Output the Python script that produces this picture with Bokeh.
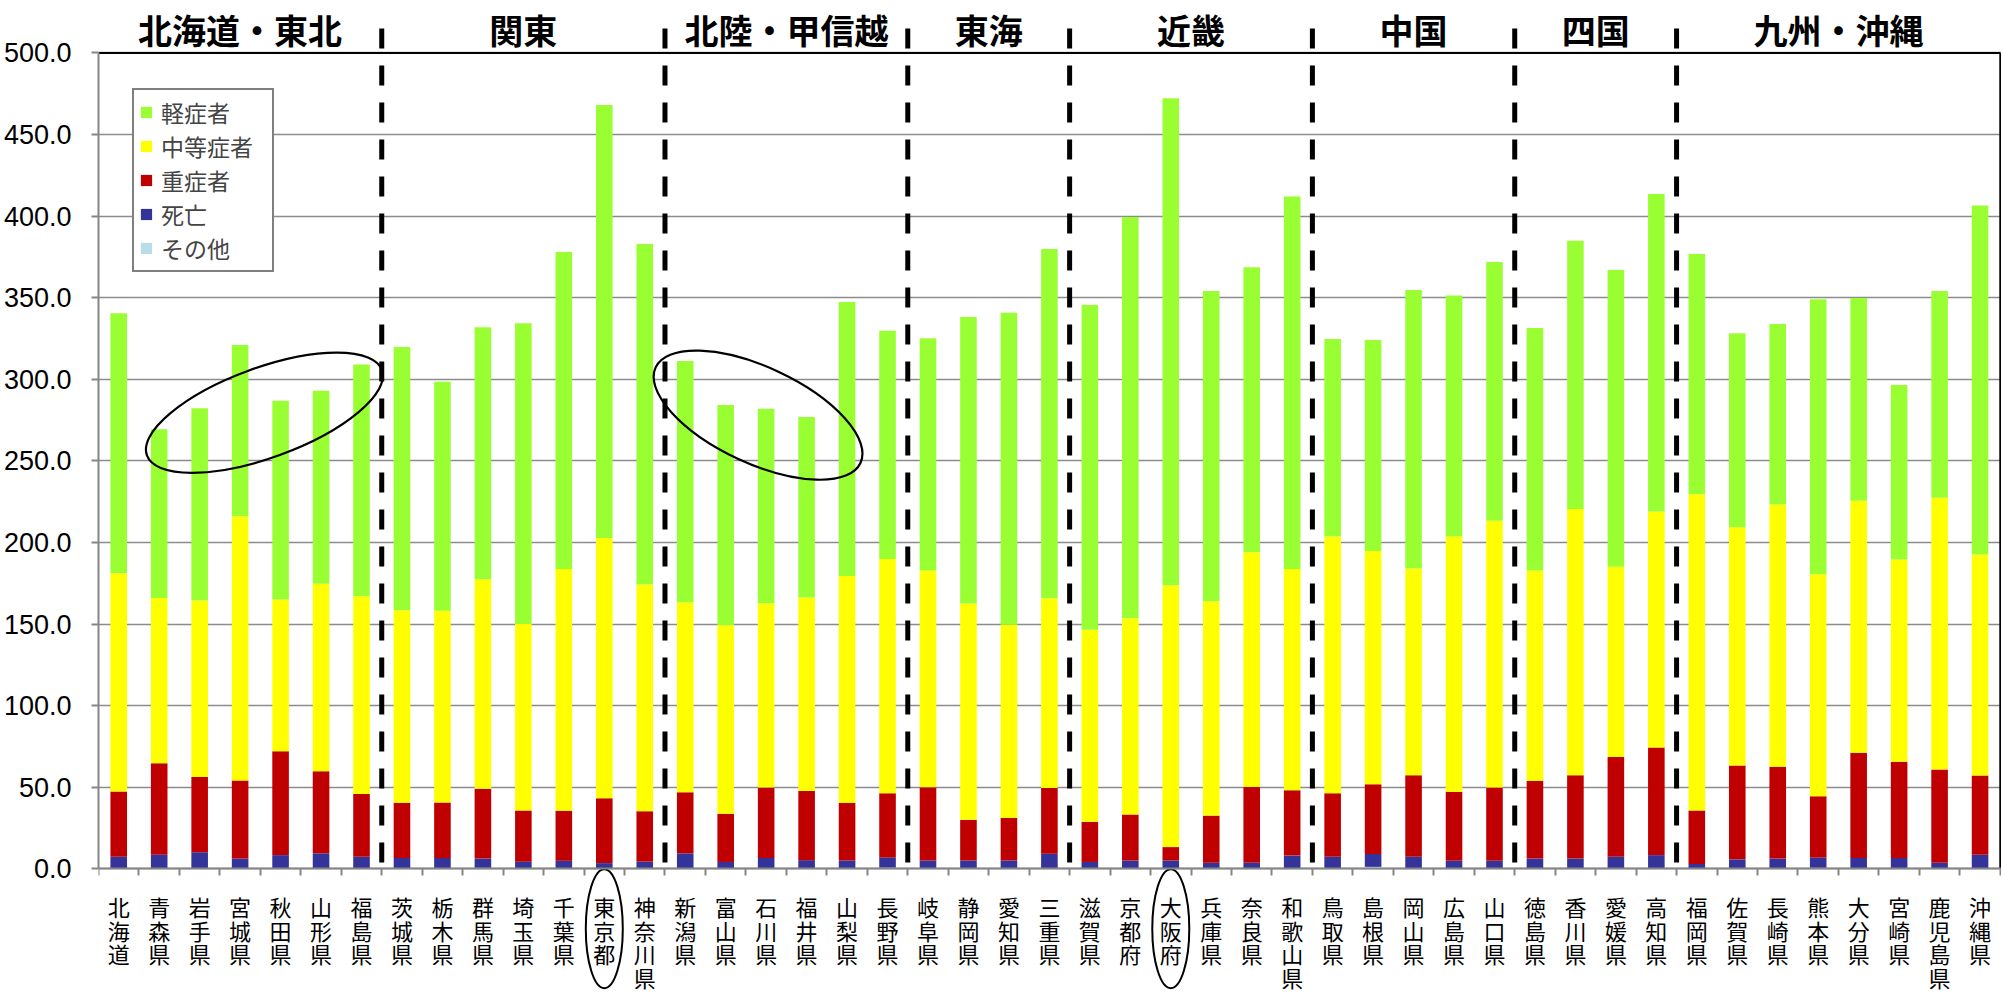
import numpy as np
from bokeh.plotting import figure
from bokeh.models import (Range1d, FixedTicker, NumeralTickFormatter, Legend, LegendItem,
                          ColumnDataSource)
from bokeh.core.properties import value
from bokeh.embed import file_html
from bokeh.resources import INLINE

# ---------------- data ----------------
prefectures = ["北海道", "青森県", "岩手県", "宮城県", "秋田県", "山形県", "福島県",
               "茨城県", "栃木県", "群馬県", "埼玉県", "千葉県", "東京都", "神奈川県",
               "新潟県", "富山県", "石川県", "福井県", "山梨県", "長野県",
               "岐阜県", "静岡県", "愛知県", "三重県",
               "滋賀県", "京都府", "大阪府", "兵庫県", "奈良県", "和歌山県",
               "鳥取県", "島根県", "岡山県", "広島県", "山口県",
               "徳島県", "香川県", "愛媛県", "高知県",
               "福岡県", "佐賀県", "長崎県", "熊本県", "大分県", "宮崎県", "鹿児島県", "沖縄県"]

other = [0, 0, 0, 0, 0, 0, 0,
         0, 0, 0.6, 0, 0, 0, 0,
         0, 0, 0, 0, 0, 0.7,
         0, 0, 0, 0,
         0, 0, 0, 0, 0, 0,
         0, 1.2, 0, 0, 0,
         0, 0, 0.4, 0,
         0, 0, 0, 0.6, 0, 0, 0, 0]

deaths = [7.4, 8.6, 10.2, 6.3, 8.4, 9.5, 7.4,
          6.7, 6.7, 5.7, 4.4, 4.9, 3.5, 4.4,
          9.5, 4.2, 6.7, 5.3, 5.1, 6.3,
          5.1, 5.1, 5.1, 9.3,
          4.2, 5.1, 5.1, 3.7, 3.7, 8.1,
          7.4, 7.9, 7.4, 4.9, 4.9,
          6.3, 6.3, 7.0, 8.4,
          3.0, 5.8, 6.3, 6.4, 6.7, 6.7, 3.7, 8.6]

severe = [40.0, 56.1, 46.1, 47.9, 63.7, 50.3, 38.4,
          33.8, 34.0, 42.8, 31.4, 30.7, 39.8, 30.9,
          37.5, 29.5, 43.1, 42.4, 35.4, 39.3,
          44.9, 24.9, 26.1, 40.2,
          24.6, 28.2, 8.2, 28.9, 46.5, 40.0,
          38.9, 42.8, 50.0, 42.3, 44.9,
          47.7, 51.1, 61.2, 66.0,
          32.8, 57.5, 56.3, 37.4, 64.5, 58.9, 57.2, 48.6]

moderate = [133.8, 101.3, 108.1, 161.8, 93.0, 114.9, 121.2,
            117.9, 117.4, 128.3, 114.2, 148.1, 159.5, 138.9,
            116.3, 115.6, 113.0, 118.6, 139.0, 143.5,
            132.8, 132.6, 118.3, 116.3,
            117.7, 120.2, 160.4, 131.4, 143.8, 135.6,
            157.4, 142.8, 126.6, 156.5, 163.5,
            128.8, 163.1, 116.5, 144.6,
            193.7, 146.0, 160.7, 136.1, 154.4, 123.9, 166.5, 135.4]

mild = [159.2, 103.3, 117.9, 105.0, 121.8, 118.2, 142.0,
        161.4, 140.3, 154.4, 184.3, 194.3, 265.2, 208.7,
        147.9, 134.9, 119.2, 110.5, 167.8, 140.0,
        142.3, 175.6, 191.3, 214.0,
        199.0, 245.9, 298.5, 190.1, 174.6, 228.3,
        121.0, 129.3, 170.7, 147.7, 158.5,
        148.6, 164.4, 181.8, 194.5,
        147.2, 118.9, 110.6, 168.5, 124.2, 107.0, 126.7, 213.9]

regions = ["北海道・東北", "関東", "北陸・甲信越", "東海", "近畿", "中国", "四国", "九州・沖縄"]
region_sizes = [7, 7, 6, 4, 6, 5, 4, 8]
y_ticks = [0, 50, 100, 150, 200, 250, 300, 350, 400, 450, 500]
circled = ["東京都", "大阪府"]

series_keys = ["other", "deaths", "severe", "moderate", "mild"]
series_names = ["その他", "死亡", "重症者", "中等症者", "軽症者"]
series_colors = ["#B7DEE8", "#333399", "#C00000", "#FFFF00", "#99FF33"]

# ---------------- figure ----------------
n = len(prefectures)
xs = list(range(n))
y_max = y_ticks[-1]
src = ColumnDataSource(dict(x=xs, other=other, deaths=deaths, severe=severe,
                            moderate=moderate, mild=mild))

JP = "Noto Sans CJK JP"
GRAY = "#868686"

# frame spans the whole height; the category axis is pinned at y = 0
p = figure(width=2001, height=993, output_backend="svg", toolbar_location=None,
           x_range=Range1d(-0.5, n - 0.47), y_range=Range1d(-76.4, 532.1),
           min_border_left=98, min_border_right=0, min_border_top=0, min_border_bottom=0)
p.outline_line_color = None
p.xgrid.visible = False
p.ygrid.ticker = FixedTicker(ticks=y_ticks)
p.ygrid.grid_line_color = "#8c8c8c"
p.ygrid.grid_line_width = 1.5

# y axis
ya = p.yaxis[0]
ya.ticker = FixedTicker(ticks=y_ticks)
ya.formatter = NumeralTickFormatter(format="0.0")
ya.bounds = (0, y_max)
ya.axis_line_color = GRAY
ya.axis_line_width = 2
ya.major_tick_line_color = GRAY
ya.major_tick_line_width = 2
ya.major_tick_out = 7
ya.major_tick_in = 0
ya.minor_tick_line_color = None
ya.major_label_text_font = "Liberation Sans"
ya.major_label_text_font_size = "27px"
ya.major_label_text_color = "black"
ya.major_label_standoff = 20

# x axis
xa = p.xaxis[0]
xa.fixed_location = 0
xa.ticker = FixedTicker(ticks=xs, minor_ticks=[i - 0.5 for i in range(n + 1)])
xa.major_label_overrides = {i: "\n".join(name) for i, name in enumerate(prefectures)}
xa.axis_line_color = GRAY
xa.axis_line_width = 2
xa.major_tick_out = 0
xa.major_tick_in = 0
xa.major_tick_line_color = None
xa.minor_tick_out = 7
xa.minor_tick_in = 0
xa.minor_tick_line_color = GRAY
xa.minor_tick_line_width = 2
xa.major_label_text_font = JP
xa.major_label_text_font_size = "22px"
xa.major_label_text_line_height = 0.74
xa.major_label_text_color = "black"
xa.major_label_standoff = 14
xa.major_label_orientation = "horizontal"

# stacked bars
rs = p.vbar_stack(series_keys, x="x", width=0.41, color=series_colors, source=src,
                  line_color=None)

# frame top / right border
p.line(x=[-0.5, n - 0.5], y=[y_max, y_max], line_color="black", line_width=2)
p.line(x=[n - 0.5, n - 0.5], y=[0, y_max], line_color="black", line_width=2)

# region separators and headers
bounds = np.cumsum(region_sizes)
starts = np.concatenate([[0], bounds[:-1]])
sep_x = [b - 0.5 for b in bounds[:-1]]
p.segment(x0=sep_x, y0=[515] * len(sep_x), x1=sep_x, y1=[-1] * len(sep_x),
          line_color="black", line_width=5, line_dash="20 17")
centers = [(s + b - 1) / 2 for s, b in zip(starts, bounds)]
p.text(x=centers, y=[514.3] * len(regions), text=regions, text_font=value(JP),
       text_font_style="bold", text_font_size="34px", text_align="center",
       text_baseline="middle", text_color="black")

# ellipses highlighting groups
p.ellipse(x=[3.6, 15.8], y=[279.5, 278], width=[250, 226], height=[90, 96],
          angle=[20, -25], angle_units="deg", width_units="screen", height_units="screen",
          fill_color=None, line_color="black", line_width=2.2)

# rings round the circled labels (below the axis)
ring_x = [prefectures.index(name) for name in circled]
p.ellipse(x=ring_x, y=[-36.7] * len(ring_x), width=37, height=119,
          width_units="screen", height_units="screen",
          fill_color=None, line_color="black", line_width=2)

# legend
order = [4, 3, 2, 1, 0]
legend = Legend(items=[LegendItem(label=series_names[k], renderers=[rs[k]]) for k in order],
                location=(34, 721))
legend.label_text_font = JP
legend.label_text_font_size = "23px"
legend.label_height = 28
legend.label_width = 106
legend.glyph_height = 14
legend.glyph_width = 14
legend.spacing = 0
legend.padding = 5
legend.margin = 0
legend.label_standoff = 8
legend.border_line_color = "black"
legend.border_line_width = 2
legend.background_fill_alpha = 1
p.add_layout(legend)

open("out.html", "w").write(file_html(p, INLINE))
